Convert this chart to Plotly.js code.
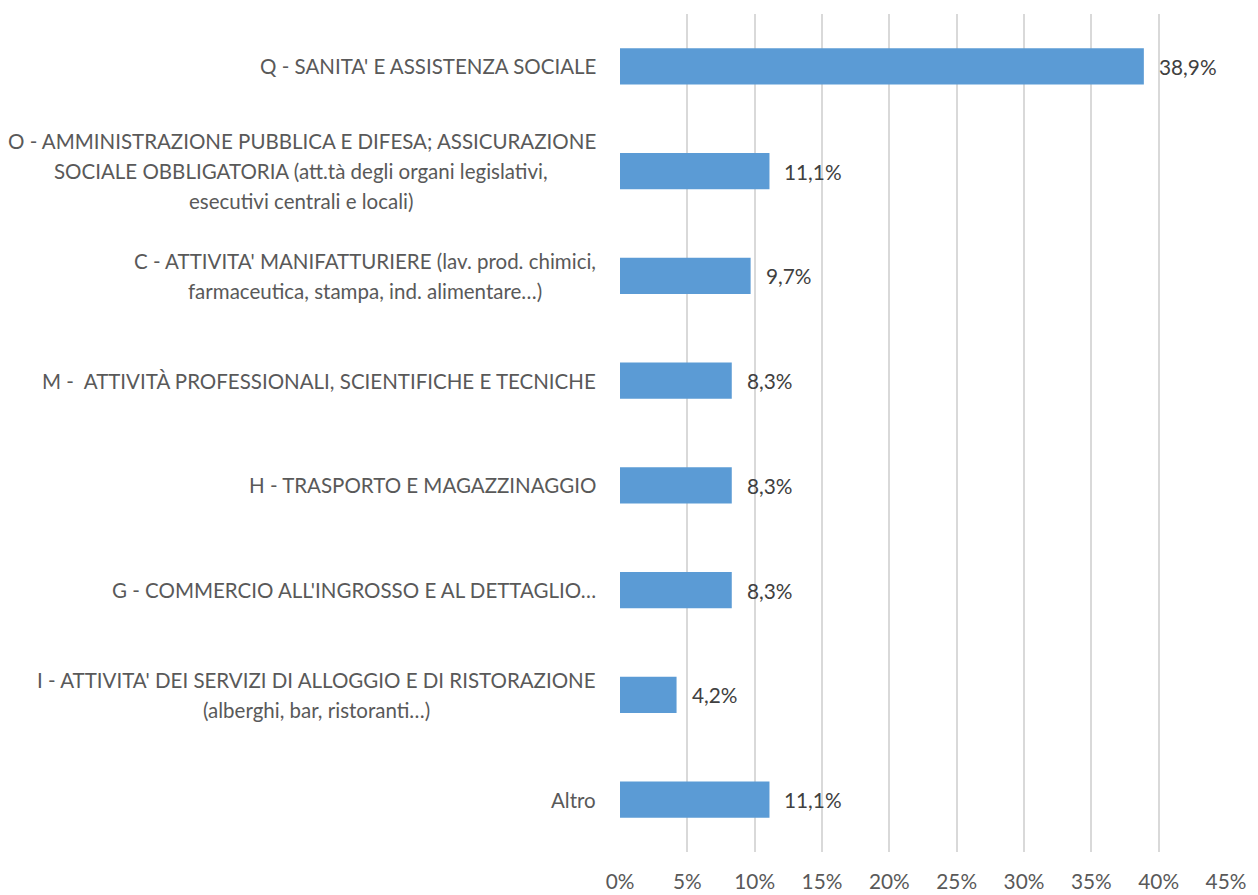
<!DOCTYPE html>
<html>
<head>
<meta charset="utf-8">
<script src="https://cdn.plot.ly/plotly-3.0.1.min.js"></script>
<style>html,body{margin:0;padding:0;background:#fff;}#chart{width:1258px;height:895px;}</style>
</head>
<body>
<div id="chart"></div>
<script>
const categories = [
  "Q - SANITA' E ASSISTENZA SOCIALE",
  "O - AMMINISTRAZIONE PUBBLICA E DIFESA; ASSICURAZIONE<br>SOCIALE OBBLIGATORIA (att.tà degli organi legislativi,<br>esecutivi centrali e locali)",
  "C - ATTIVITA' MANIFATTURIERE (lav. prod. chimici,<br>farmaceutica, stampa, ind. alimentare…)",
  "M -  ATTIVITÀ PROFESSIONALI, SCIENTIFICHE E TECNICHE",
  "H - TRASPORTO E MAGAZZINAGGIO",
  "G - COMMERCIO ALL'INGROSSO E AL DETTAGLIO…",
  "I - ATTIVITA' DEI SERVIZI DI ALLOGGIO E DI RISTORAZIONE<br>(alberghi, bar, ristoranti…)",
  "Altro"
];
const values = [38.9, 11.1, 9.7, 8.3, 8.3, 8.3, 4.2, 11.1];
const tickVals = [0, 5, 10, 15, 20, 25, 30, 35, 40, 45];

const FONT = "Lato";
const LABEL_SIZE = 20.5;
const LINE_H = 30;
const ids = categories.map((c, i) => 'c' + i);

const ctx = document.createElement('canvas').getContext('2d');
ctx.font = LABEL_SIZE + 'px ' + FONT;
function tw(s) { return ctx.measureText(s).width; }

const trace = {
  type: 'bar',
  orientation: 'h',
  x: values,
  y: ids,
  marker: {color: '#5b9bd5'},
  hoverinfo: 'none'
};

const annotations = [];
categories.forEach((c, i) => {
  const lines = c.split('<br>');
  const widths = lines.map(tw);
  const blockW = Math.max.apply(null, widths);
  const n = lines.length;
  lines.forEach((ln, j) => {
    annotations.push({
      xref: 'paper', yref: 'y', x: 0, y: ids[i],
      xanchor: 'right', yanchor: 'middle',
      xshift: -22 - (blockW - widths[j]) / 2,
      yshift: ((n - 1) / 2 - j) * LINE_H,
      text: ln, showarrow: false,
      font: {family: FONT, size: LABEL_SIZE, color: '#595959'}
    });
  });
  annotations.push({
    xref: 'x', yref: 'y', x: values[i], y: ids[i],
    xanchor: 'left', yanchor: 'middle', xshift: 13,
    text: values[i].toFixed(1).replace('.', ',') + '%', showarrow: false,
    font: {family: FONT, size: 20.8, color: '#404040'}
  });
});

const layout = {
  width: 1258, height: 895,
  margin: {l: 620, r: 32, t: 14, b: 43},
  paper_bgcolor: '#ffffff', plot_bgcolor: '#ffffff',
  showlegend: false,
  bargap: 0.656,
  xaxis: {
    range: [0, 45], tickvals: tickVals, ticktext: tickVals.map(v => v + '%'),
    showgrid: true, gridcolor: '#d9d9d9', gridwidth: 2,
    zeroline: false, showline: false,
    ticks: 'outside', ticklen: 11, tickcolor: 'rgba(0,0,0,0)',
    tickfont: {family: FONT, size: 20.8, color: '#595959'}, fixedrange: true
  },
  yaxis: {
    type: 'category', autorange: 'reversed', showticklabels: false,
    showgrid: false, zeroline: false, showline: false, ticks: '', fixedrange: true
  },
  annotations: annotations
};

Plotly.newPlot('chart', [trace], layout, {displayModeBar: false, staticPlot: true});
</script>
</body>
</html>
